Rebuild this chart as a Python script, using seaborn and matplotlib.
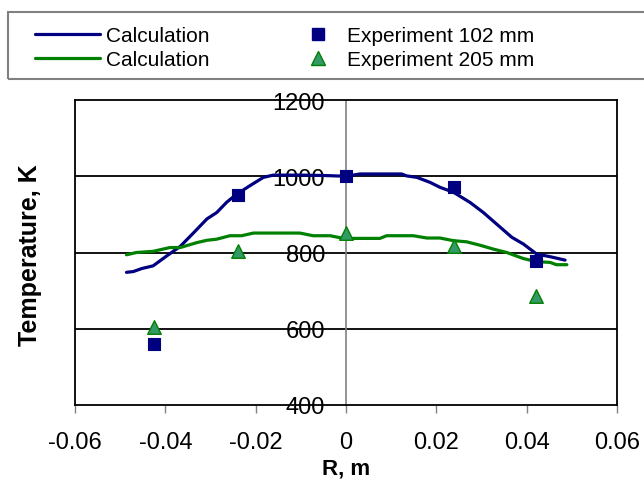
import numpy as np
import pandas as pd
import matplotlib
matplotlib.use("Agg")
import matplotlib.pyplot as plt
from matplotlib.lines import Line2D
from matplotlib.patches import Rectangle
import seaborn as sns

# calculated profiles
r_calc_102 = [-0.0486, -0.0471, -0.0452, -0.0427, -0.0397, -0.0367, -0.0338, -0.0308,
              -0.0286, -0.0264, -0.0242, -0.0213, -0.0183, -0.0161, -0.0100, -0.0050,
              0.0000, 0.0031, 0.0060, 0.0123, 0.0134, 0.0157, 0.0186, 0.0208, 0.0238,
              0.0275, 0.0304, 0.0334, 0.0367, 0.0393, 0.0422, 0.0452, 0.0485]
t_calc_102 = [748, 750, 758, 765, 791, 816, 851, 888,
              905, 932, 953, 975, 997, 1003, 1003, 1002,
              1000, 1006, 1006, 1006, 1001, 997, 984, 971, 958,
              931, 905, 874, 840, 822, 796, 789, 780]

r_calc_205 = [-0.0486, -0.0464, -0.0427, -0.0390, -0.0367, -0.0330, -0.0308, -0.0286,
              -0.0257, -0.0231, -0.0205, -0.0102, -0.0073, -0.0035, -0.0006, 0.0075,
              0.0090, 0.0149, 0.0179, 0.0208, 0.0238, 0.0267, 0.0297, 0.0326, 0.0356,
              0.0393, 0.0422, 0.0452, 0.0466, 0.0489]
t_calc_205 = [794, 800, 803, 813, 813, 826, 832, 835,
              844, 844, 851, 851, 844, 844, 837, 837,
              844, 844, 838, 838, 831, 828, 819, 809, 800,
              784, 776, 774, 768, 768]

# experiment points
r_exp = [-0.0425, -0.024, 0.0, 0.024, 0.042]
t_exp_102 = [560, 950, 1000, 972, 778]
t_exp_205 = [605, 803, 850, 818, 685]

navy = "#000080"
green = "#008000"
tri_fill = "#339966"

sns.set_style("white")
plt.rcParams["font.family"] = ["Liberation Sans", "DejaVu Sans"]
plt.rcParams["text.color"] = "black"
plt.rcParams["xtick.color"] = "black"
plt.rcParams["ytick.color"] = "black"
plt.rcParams["axes.labelcolor"] = "black"

fig = plt.figure(figsize=(6.44, 4.85), dpi=100)
ax = fig.add_axes([75 / 644, 1 - 406 / 485, 542 / 644, 305 / 485])

sns.lineplot(x=r_calc_102, y=t_calc_102, ax=ax, color=navy, lw=2.3, sort=False, zorder=3)
sns.lineplot(x=r_calc_205, y=t_calc_205, ax=ax, color=green, lw=2.3, sort=False, zorder=3)
sns.scatterplot(x=r_exp, y=t_exp_102, ax=ax, marker="s", s=75, color=navy,
                edgecolor=navy, linewidth=0.8, zorder=4)
sns.scatterplot(x=r_exp, y=t_exp_205, ax=ax, marker="^", s=95, color=tri_fill,
                edgecolor=green, linewidth=1.0, zorder=4)

ax.set_xlim(-0.06, 0.06)
ax.set_ylim(400, 1200)
ax.set_xticks([-0.06, -0.04, -0.02, 0, 0.02, 0.04, 0.06])
ax.set_xticklabels(["-0.06", "-0.04", "-0.02", "0", "0.02", "0.04", "0.06"])
ax.set_yticks([400, 600, 800, 1000, 1200])

for y in [600, 800, 1000]:
    ax.axhline(y, color="black", lw=1.3, zorder=1)

# y axis sits at r = 0
ax.spines["left"].set_position(("data", 0))
ax.spines["left"].set_color("#808080")
ax.spines["left"].set_linewidth(1.2)
ax.spines["left"].set_zorder(1)
for s in ["top", "right", "bottom"]:
    ax.spines[s].set_color("black")
    ax.spines[s].set_linewidth(1.3)
ax.plot([0, 0], [0, 1], transform=ax.transAxes, color="black", lw=1.3, clip_on=False)

ax.tick_params(axis="y", length=0, pad=15, labelsize=17)
ax.tick_params(axis="x", direction="out", length=6, width=1, color="#808080",
               bottom=True, pad=13, labelsize=17)

ax.set_xlabel("R, m", fontsize=16, fontweight="bold", labelpad=3)
ax.set_ylabel("")
fig.text(30 / 644, 1 - 255 / 485, "Temperature, K", rotation=90, fontsize=18,
         fontweight="bold", ha="center", va="center")

# legend: frame + two columns
fig.patches.append(Rectangle((8 / 644, 1 - 80 / 485), 660 / 644, 67 / 485,
                             transform=fig.transFigure, fill=False,
                             edgecolor="#808080", lw=1.5))
line_handles = [Line2D([], [], color=navy, lw=2.3), Line2D([], [], color=green, lw=2.3)]
mark_handles = [
    Line2D([], [], color=navy, marker="s", ls="none", markersize=8.5),
    Line2D([], [], color=tri_fill, marker="^", markeredgecolor=green, ls="none", markersize=9.5),
]
leg1 = fig.legend(line_handles, ["Calculation", "Calculation"], loc="upper left",
                  bbox_to_anchor=(35 / 644, 1 - 27 / 485), frameon=False, fontsize=15,
                  handlelength=3.1, handletextpad=0.3, labelspacing=0.25,
                  borderpad=0, borderaxespad=0)
leg2 = fig.legend(mark_handles, ["Experiment 102 mm", "Experiment 205 mm"], loc="upper left",
                  bbox_to_anchor=(308 / 644, 1 - 27 / 485), frameon=False, fontsize=15,
                  handlelength=1.0, handletextpad=0.85, labelspacing=0.25,
                  borderpad=0, borderaxespad=0)

fig.savefig("out.png", dpi=100)
